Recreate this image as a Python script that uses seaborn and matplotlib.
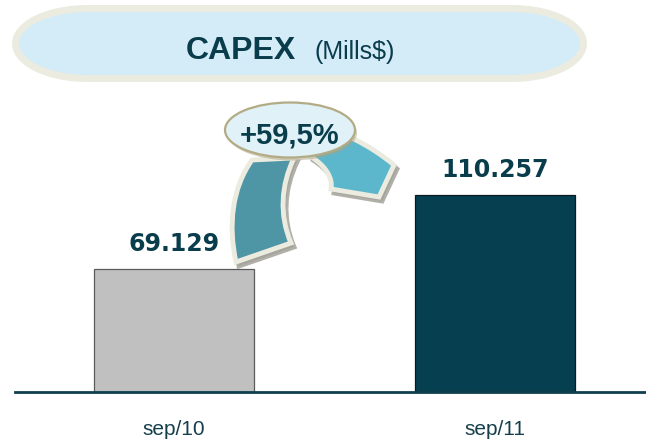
import numpy as np
import matplotlib
matplotlib.use("Agg")
import matplotlib.pyplot as plt
from matplotlib.path import Path
from matplotlib.patches import PathPatch, Ellipse, Polygon
import seaborn as sns

# ---- data ----
categories = ["sep/10", "sep/11"]
values = [69.129, 110.257]
value_labels = ["69.129", "110.257"]
growth_label = "+59,5%"
title_main = "CAPEX"
title_unit = "(Mills$)"

bar_colors = ["#c0c0c0", "#063f50"]
bar_edges = ["#5a5a5a", "#0a1a20"]
text_color = "#0a3d4c"

sns.set_theme(style="white")
plt.rcParams["font.family"] = ["Liberation Sans", "DejaVu Sans"]

W, H = 646, 440
fig = plt.figure(figsize=(W / 100, H / 100), dpi=100)
fig.patch.set_facecolor("white")

# main axes in pixel placement
ax_left, ax_right, ax_bottom, ax_top = 15, 646, 392, 80
ax = fig.add_axes([ax_left / W, 1 - ax_bottom / H, (ax_right - ax_left) / W, (ax_bottom - ax_top) / H])

sns.barplot(x=categories, y=values, hue=categories, palette=bar_colors,
            width=0.5, legend=False, ax=ax, saturation=1)
for p, ec in zip(ax.patches, bar_edges):
    p.set_edgecolor(ec)
    p.set_linewidth(0.9)

ax.set_xlim(-0.495, 1.470)
ax.set_ylim(0, 175)
ax.set_yticks([])
ax.set_xlabel("")
ax.set_ylabel("")
for s in ["top", "left", "right"]:
    ax.spines[s].set_visible(False)
ax.spines["bottom"].set_color("#0e3f4c")
ax.spines["bottom"].set_linewidth(2.0)
ax.tick_params(axis="x", length=0, pad=20, labelsize=15, labelcolor="#163f4c")
ax.set_facecolor("none")

for i, (v, lab) in enumerate(zip(values, value_labels)):
    ax.annotate(lab, (i, v), xytext=(0, 13), textcoords="offset points",
                ha="center", va="baseline", fontsize=17, fontweight="bold",
                color=text_color, family=["DejaVu Sans"])

# ---- overlay for decorations (pixel coordinates, y down) ----
ov = fig.add_axes([0, 0, 1, 1], zorder=5)
ov.set_xlim(0, W)
ov.set_ylim(H, 0)
ov.axis("off")
ov.patch.set_alpha(0)

# title pill
cy, b, a = 43.5, 35.0, 72.0
xl, xr = 15.5, 583.5
cxL, cxR = xl + a, xr - a
t1 = np.linspace(np.pi / 2, 3 * np.pi / 2, 60)
t2 = np.linspace(-np.pi / 2, np.pi / 2, 60)
pts = np.vstack([
    np.column_stack([cxL + a * np.cos(t1), cy + b * np.sin(t1)]),
    np.column_stack([cxR + a * np.cos(t2), cy + b * np.sin(t2)]),
])
ov.add_patch(Polygon(pts, closed=True, facecolor="#d4ebf8", edgecolor="#ecebdf", linewidth=5.0))
ov.text(186, 59, title_main, fontsize=23, fontweight="bold", color=text_color,
        ha="left", va="baseline")
ov.text(314, 59, title_unit, fontsize=18, color=text_color, ha="left", va="baseline")

# curved arrow
M, C4, L, Z = Path.MOVETO, Path.CURVE4, Path.LINETO, Path.CLOSEPOLY
dark_v = [(236, 262), (228, 225), (232, 188), (252, 160), (294, 158),
          (281, 185), (279, 215), (291, 243), (236, 262)]
dark_c = [M, C4, C4, C4, L, C4, C4, C4, Z]
light_v = [(315, 126), (340, 130), (370, 145), (394, 165), (379, 197),
           (331, 189), (333, 178), (326, 166), (310, 156), (315, 126)]
light_c = [M, C4, C4, C4, L, L, C4, C4, C4, Z]


def shifted(verts, dx, dy):
    return [(x + dx, y + dy) for x, y in verts]


for verts, codes in [(dark_v, dark_c), (light_v, light_c)]:
    ov.add_patch(PathPatch(Path(shifted(verts, 3, 4), codes), facecolor="#a3a39a",
                           edgecolor="#a3a39a", linewidth=3.5, alpha=0.85))
for verts, codes, col in [(dark_v, dark_c, "#4e95a5"), (light_v, light_c, "#5cb6cc")]:
    ov.add_patch(PathPatch(Path(verts, codes), facecolor=col,
                           edgecolor="#ecebdf", linewidth=3.5, joinstyle="miter"))

# bubble
ov.add_patch(Ellipse((292, 133), 130, 55, facecolor="#aaa488", edgecolor="none", alpha=0.5))
ov.add_patch(Ellipse((290, 130), 130, 55, facecolor="#e0f1f7", edgecolor="#b3ab84", linewidth=1.6))
ov.text(290, 143, growth_label, fontsize=21, fontweight="bold", color=text_color,
        ha="center", va="baseline")

fig.savefig("out.png", dpi=100, facecolor="white")
